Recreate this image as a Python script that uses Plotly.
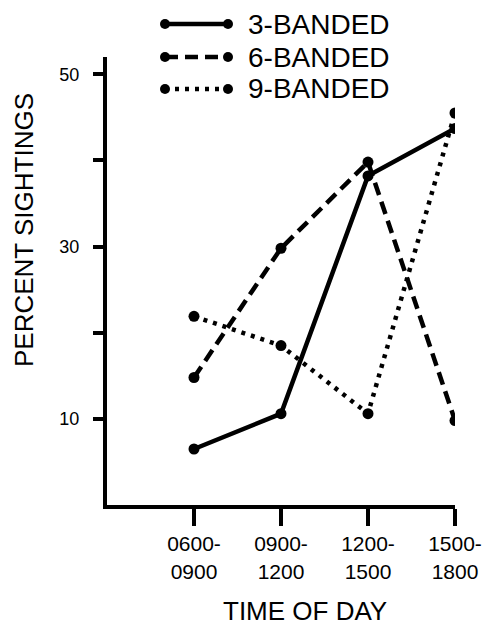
import plotly.graph_objects as go

# ---- data ----
time_labels = ["0600-<br>0900", "0900-<br>1200", "1200-<br>1500", "1500-<br>1800"]
x_pos = [1, 2, 3, 4]
series_names = ["3-BANDED", "6-BANDED", "9-BANDED"]
banded3 = [6.5, 10.6, 38.2, 43.7]
banded6 = [14.8, 29.8, 39.8, 9.8]
banded9 = [21.9, 18.5, 10.6, 45.5]
y_tick_vals = [10, 20, 30, 40, 50]
y_tick_text = ["10", "", "30", "", "50"]

series_values = [banded3, banded6, banded9]
dashes = ["solid", "13px,7px", "4px,6px"]

W, H = 483, 626
# plot area in window pixels: left 107, right 455, top 57, bottom 505
PL, PR, PT, PB = 107, 455, 57, 505
L, T = PL, PT
R, B = W - PR, H - PB
PW, PH = PR - PL, PB - PT

def px2paper(px, py):
    return (px - PL) / PW, (PB - py) / PH

FONT = "Liberation Sans, Arial, Helvetica, sans-serif"

fig = go.Figure()
for name, vals, dash in zip(series_names, series_values, dashes):
    fig.add_trace(go.Scatter(
        x=x_pos, y=vals, name=name, mode="lines+markers",
        line=dict(color="black", width=4.5, dash=dash),
        marker=dict(color="black", size=11),
        showlegend=False, hoverinfo="skip",
    ))

# manual legend (key lines with end dots + labels)
legend_rows_py = [24, 57, 89]
for name, dash, py in zip(series_names, dashes, legend_rows_py):
    x0, y0 = px2paper(165, py)
    x1, _ = px2paper(228, py)
    fig.add_shape(type="line", xref="paper", yref="paper", x0=x0, x1=x1, y0=y0, y1=y0,
                  line=dict(color="black", width=4.5, dash=dash))
    for cx in (165, 228):
        ax0, ay0 = px2paper(cx - 5, py - 5)
        ax1, ay1 = px2paper(cx + 5, py + 5)
        fig.add_shape(type="circle", xref="paper", yref="paper",
                      x0=ax0, x1=ax1, y0=ay1, y1=ay0,
                      fillcolor="black", line=dict(color="black", width=0))
    tx, ty = px2paper(246, py)
    fig.add_annotation(text=name, xref="paper", yref="paper", x=tx, y=ty,
                       xanchor="left", yanchor="middle", showarrow=False,
                       font=dict(size=28, color="black", family=FONT))

# axis titles
tx, ty = px2paper(24, 230)
fig.add_annotation(text="PERCENT SIGHTINGS", xref="paper", yref="paper", x=tx, y=ty,
                   textangle=-90, xanchor="center", yanchor="middle", showarrow=False,
                   font=dict(size=26, color="black", family=FONT))
tx, ty = px2paper(305, 611)
fig.add_annotation(text="TIME OF DAY", xref="paper", yref="paper", x=tx, y=ty,
                   xanchor="center", yanchor="middle", showarrow=False,
                   font=dict(size=26, color="black", family=FONT))

fig.update_xaxes(range=[0, 4], tickvals=x_pos, ticktext=time_labels,
                 showline=True, linewidth=4, linecolor="black",
                 ticks="outside", ticklen=17, tickwidth=4, tickcolor="black",
                 showgrid=False, zeroline=False, ticklabeloverflow="allow",
                 automargin=False,
                 tickfont=dict(size=21, color="black", family=FONT))
fig.update_yaxes(range=[0, 52], tickvals=y_tick_vals, ticktext=y_tick_text,
                 showline=True, linewidth=4, linecolor="black",
                 ticks="outside", ticklen=10, tickwidth=4, tickcolor="black",
                 showgrid=False, zeroline=False, ticklabelstandoff=10,
                 automargin=False,
                 tickfont=dict(size=18, color="black", family=FONT))

fig.update_layout(width=W, height=H, margin=dict(l=L, r=R, t=T, b=B, autoexpand=False),
                  paper_bgcolor="white", plot_bgcolor="white",
                  font=dict(family=FONT, color="black"), showlegend=False)

fig.write_html("out.html", config={"displayModeBar": False, "staticPlot": True},
               post_script="document.body.style.margin='0';document.body.style.overflow='hidden';")
